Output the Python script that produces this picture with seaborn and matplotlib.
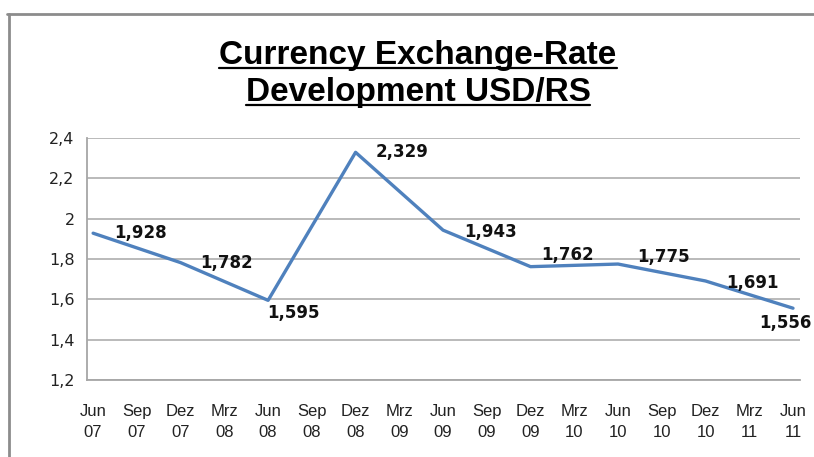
import matplotlib
matplotlib.use("Agg")
import matplotlib.pyplot as plt
from matplotlib.lines import Line2D
import pandas as pd
import seaborn as sns

# quarterly category axis
periods = ["Jun\n07", "Sep\n07", "Dez\n07", "Mrz\n08", "Jun\n08", "Sep\n08",
           "Dez\n08", "Mrz\n09", "Jun\n09", "Sep\n09", "Dez\n09", "Mrz\n10",
           "Jun\n10", "Sep\n10", "Dez\n10", "Mrz\n11", "Jun\n11"]
# observations (semi-annual)
obs_period = ["Jun\n07", "Dez\n07", "Jun\n08", "Dez\n08", "Jun\n09",
              "Dez\n09", "Jun\n10", "Dez\n10", "Jun\n11"]
rates = [1.928, 1.782, 1.595, 2.329, 1.943, 1.762, 1.775, 1.691, 1.556]
rate_labels = ["1,928", "1,782", "1,595", "2,329", "1,943",
               "1,762", "1,775", "1,691", "1,556"]
y_ticks = [1.2, 1.4, 1.6, 1.8, 2.0, 2.2, 2.4]
y_ticklabels = ["1,2", "1,4", "1,6", "1,8", "2", "2,2", "2,4"]

df = pd.DataFrame({"period": obs_period, "rate": rates})
df["pos"] = df["period"].apply(periods.index)

sns.set_theme(style="whitegrid")

W, H = 814, 457
fig = plt.figure(figsize=(W / 100, H / 100), dpi=100)
ax = fig.add_axes([87 / W, 1 - 380 / H, (800 - 87) / W, (380 - 138) / H])

sns.lineplot(data=df, x="pos", y="rate", ax=ax, color="#4F81BD",
             linewidth=2.4, legend=False)

ax.set_xlim(-0.14, 16.16)
ax.set_ylim(1.2, 2.4)
ax.set_xticks(range(len(periods)))
ax.set_xticklabels(periods, fontsize=12, family="Liberation Sans",
                   color="#222222", linespacing=1.55)
ax.set_yticks(y_ticks)
ax.set_yticklabels(y_ticklabels, fontsize=11.5, family="DejaVu Sans",
                   color="#222222")
ax.set_xlabel("")
ax.set_ylabel("")

ax.grid(axis="x", visible=False)
ax.grid(axis="y", color="#B4B4B4", linewidth=1.3)
for side in ["top", "right"]:
    ax.spines[side].set_visible(False)
for side in ["left", "bottom"]:
    ax.spines[side].set_color("#A6A6A6")
    ax.spines[side].set_linewidth(1.3)
ax.tick_params(axis="both", length=5, width=1.2, color="#A6A6A6",
               direction="out", pad=4)
ax.tick_params(axis="x", pad=12)

# data labels, offsets in pixels
label_offsets = [(47, 0), (46, 0), (25, -13), (46, 0), (47, -2),
                 (37, 12), (45, 7), (47, -2), (-8, -15)]
for (xp, yv, txt), (dx, dy) in zip(zip(df["pos"], df["rate"], rate_labels),
                                   label_offsets):
    ax.annotate(txt, (xp, yv), xytext=(dx, dy), textcoords="offset pixels",
                ha="center", va="center", fontsize=12, fontweight="bold",
                family="DejaVu Sans", color="#111111", annotation_clip=False)

# title with underline
title_lines = ["Currency Exchange-Rate", "Development USD/RS"]
baselines = [64, 101]
fig.canvas.draw()
renderer = fig.canvas.get_renderer()
for line, base in zip(title_lines, baselines):
    t = fig.text(418 / W, 1 - base / H, line, ha="center", va="baseline",
                 fontsize=24, fontweight="bold", family="Liberation Sans",
                 color="#000000")
    bb = t.get_window_extent(renderer)
    uy = (H - base - 4) / H
    fig.add_artist(Line2D([bb.x0 / W, bb.x1 / W], [uy, uy],
                          transform=fig.transFigure, color="#000000",
                          linewidth=1.6))

# chart-area border (top and left edges visible)
border = dict(transform=fig.transFigure, color="#8C8C8C", linewidth=2)
fig.add_artist(Line2D([7 / W, 1], [1 - 14 / H, 1 - 14 / H], **border))
fig.add_artist(Line2D([9 / W, 9 / W], [0, 1 - 14 / H], **border))

fig.savefig("out.png", dpi=100)
